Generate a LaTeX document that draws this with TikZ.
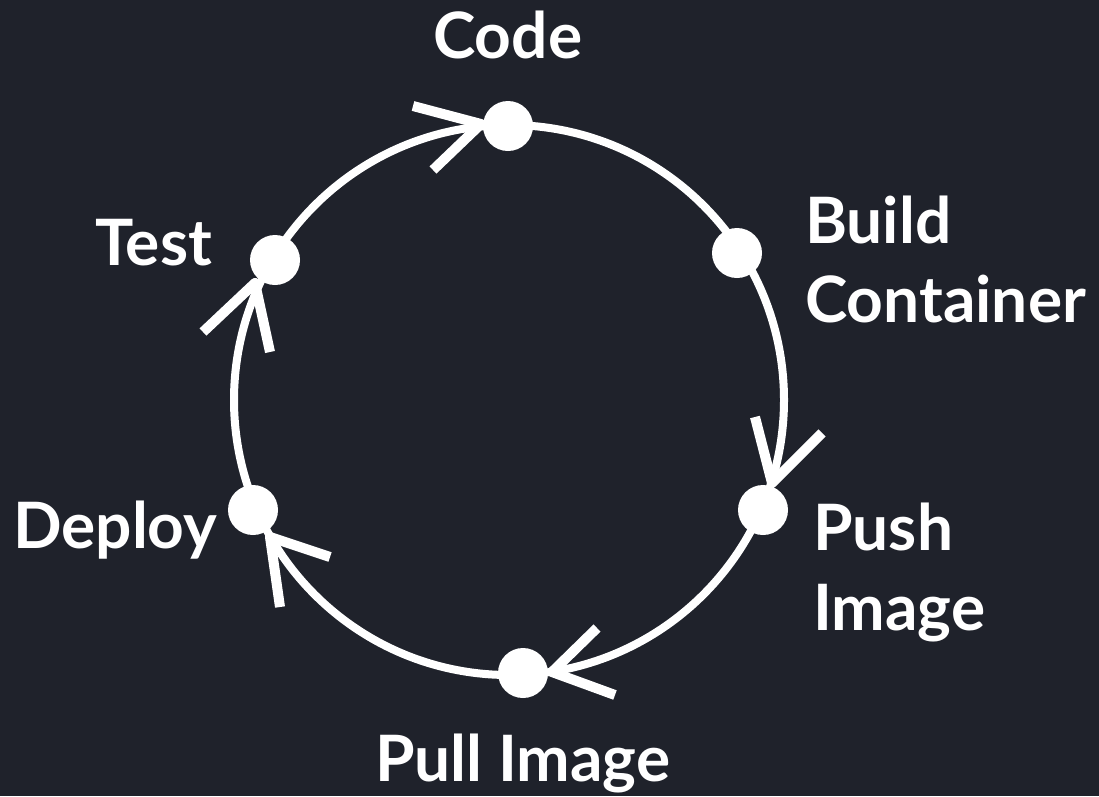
\documentclass[tikz,border=0pt]{standalone}
\usepackage{fontspec}
\setmainfont{Lato}
\definecolor{bg}{RGB}{31,34,43}
\begin{document}
\begin{tikzpicture}[x=1pt,y=-1pt,
  ring/.style={draw=white,line width=8pt},
  dot/.style={circle,fill=white,minimum size=50pt,inner sep=0pt},
  arm/.style={draw=white,line width=10pt,line join=round,line cap=butt},
  lab/.style={text=white,inner sep=0pt,anchor=base west,font=\fontsize{64}{76}\selectfont\bfseries}]
\fill[bg] (0,0) rectangle (1099,796);
\useasboundingbox (0,0) rectangle (1099,796);
\draw[ring] (509,400) circle (275);
\node[dot] (code) at (508,126) {};
\node[dot] (build) at (737,253) {};
\node[dot] (push) at (763,510) {};
\node[dot] (pull) at (523,673) {};
\node[dot] (deploy) at (253,510) {};
\node[dot] (test) at (275,260) {};
% arrowheads
\coordinate (codetip) at (481,124);
\coordinate (codea) at (413,106);
\coordinate (codeb) at (433,170);
\draw[arm] (codea) -- (codetip) -- (codeb);
\coordinate (pushtip) at (772,483);
\coordinate (pusha) at (755,417);
\coordinate (pushb) at (822,433);
\draw[arm] (pusha) -- (pushtip) -- (pushb);
\coordinate (pulltip) at (552,672);
\coordinate (pulla) at (597,628);
\coordinate (pullb) at (615,695);
\draw[arm] (pulla) -- (pulltip) -- (pullb);
\coordinate (deploytip) at (270,537);
\coordinate (deploya) at (330,557);
\coordinate (deployb) at (280,607);
\draw[arm] (deploya) -- (deploytip) -- (deployb);
\coordinate (testtip) at (255,283);
\coordinate (testa) at (203,332);
\coordinate (testb) at (270,352);
\draw[arm] (testa) -- (testtip) -- (testb);
% labels
\node[lab] (codel) at (433,58) {Code};
\node[lab] (buildl1) at (805,243) {Build};
\node[lab] (buildl2) at (805,322) {Container};
\node[lab] (pushl1) at (813,550) {Push};
\node[lab] (pushl2) at (813,630) {Image};
\node[lab] (pulll) at (375,781) {Pull Image};
\node[lab] (deployl) at (13,548) {Deploy};
\node[lab] (testl) at (95,265) {Test};
\end{tikzpicture}
\end{document}
